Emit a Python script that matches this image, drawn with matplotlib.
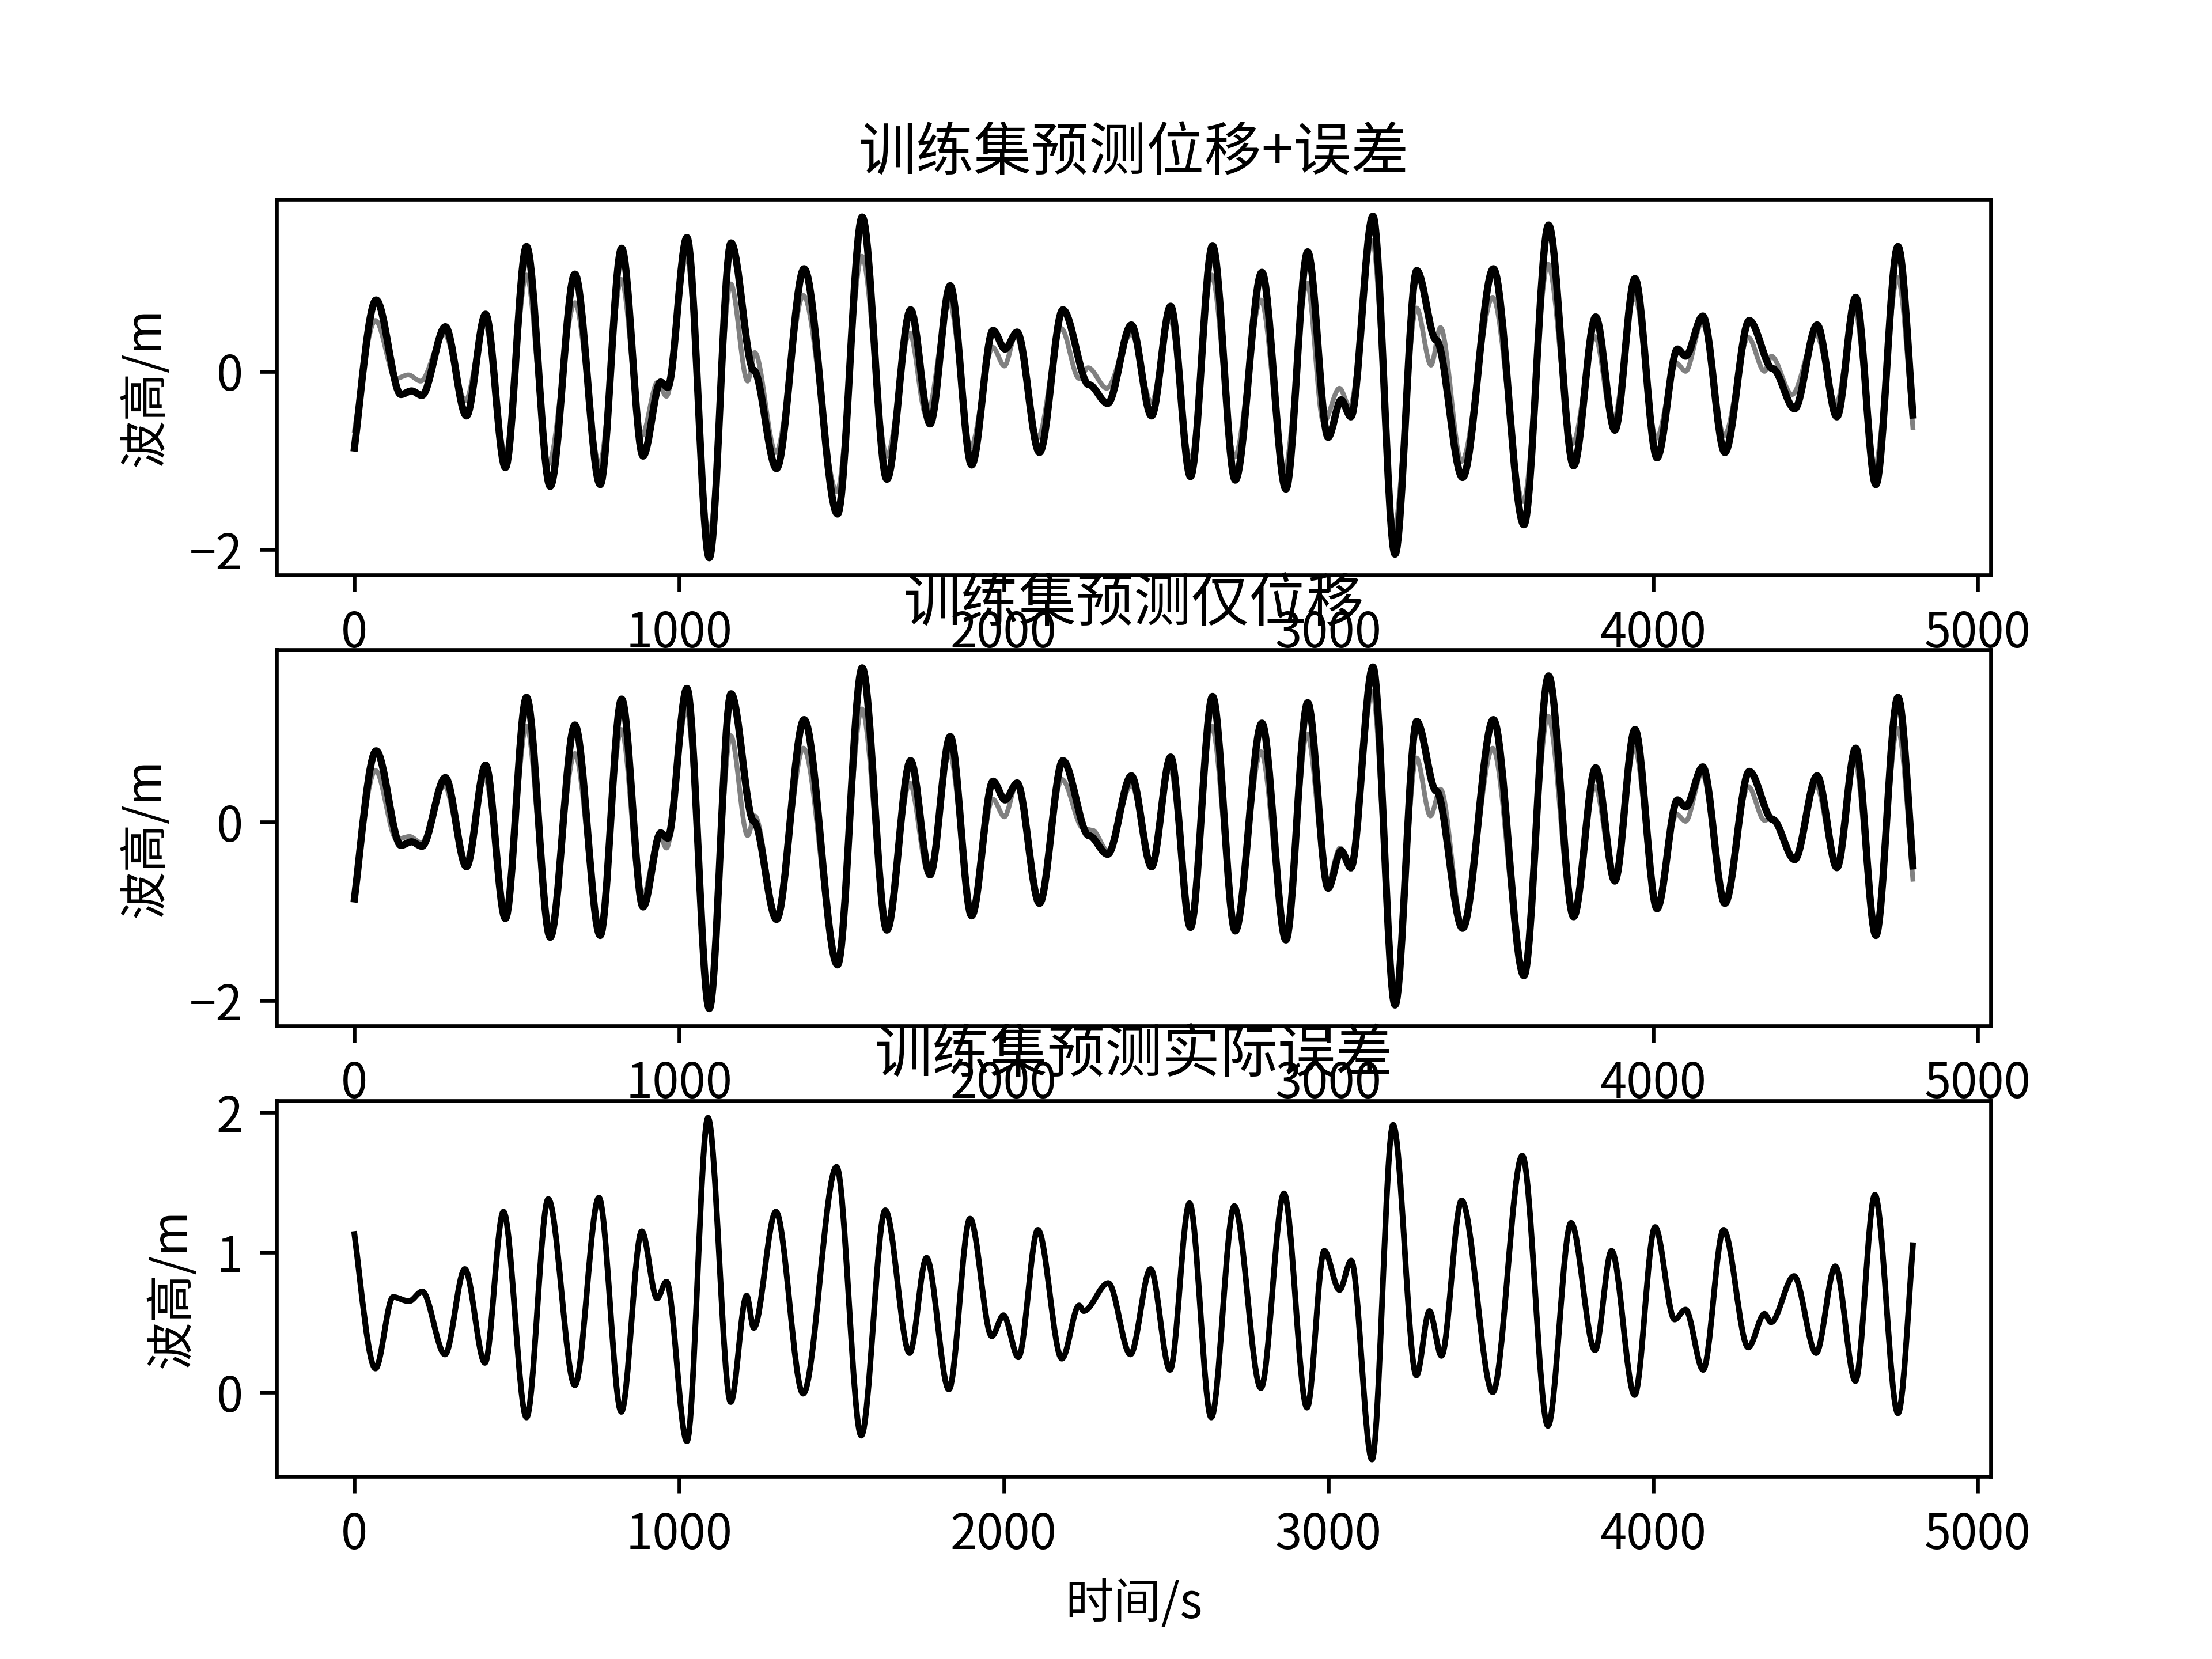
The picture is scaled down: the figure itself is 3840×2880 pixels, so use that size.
import numpy as np
import matplotlib
matplotlib.use("Agg")
import matplotlib.pyplot as plt
from matplotlib.path import Path
from matplotlib.patches import PathPatch

plt.rcParams['font.family'] = ['Noto Sans CJK SC', 'DejaVu Sans']
plt.rcParams['axes.unicode_minus'] = True

# 实测波高 (黑线, 上两图相同) -- 读取的极值点
true_t = [0, 67, 143, 176, 208, 280, 345, 404, 465, 530,
          603, 679, 757, 823, 889, 943, 965, 1024, 1093, 1160,
          1230, 1300, 1385, 1488, 1564, 1640, 1713, 1773, 1835, 1901,
          1967, 2004, 2041, 2110, 2182, 2262, 2320, 2393, 2455, 2514,
          2575, 2643, 2713, 2795, 2869, 2936, 2999, 3039, 3069, 3137,
          3205, 3272, 3332, 3413, 3508, 3602, 3678, 3755, 3823, 3882,
          3944, 4012, 4075, 4100, 4153, 4221, 4296, 4368, 4436, 4505,
          4566, 4624, 4686, 4754, 4800]
true_y = [-0.86, 0.80, -0.26, -0.22, -0.27, 0.50, -0.50, 0.64, -1.08, 1.40,
          -1.29, 1.09, -1.27, 1.38, -0.95, -0.12, -0.18, 1.50, -2.09, 1.44,
          0.01, -1.09, 1.15, -1.60, 1.73, -1.21, 0.69, -0.59, 0.96, -1.05,
          0.46, 0.25, 0.44, -0.91, 0.69, -0.15, -0.36, 0.52, -0.50, 0.73,
          -1.18, 1.41, -1.22, 1.11, -1.32, 1.34, -0.74, -0.32, -0.51, 1.74,
          -2.05, 1.13, 0.35, -1.19, 1.15, -1.72, 1.64, -1.06, 0.61, -0.66,
          1.04, -0.97, 0.25, 0.17, 0.62, -0.91, 0.57, 0.03, -0.42, 0.52,
          -0.51, 0.83, -1.27, 1.40, -0.49]

# 预测: 位移+误差 (灰线, 图1)
pred1_t = [0, 65, 128, 166, 204, 277, 342, 402, 465, 530,
           597, 679, 755, 822, 885, 934, 961, 1023, 1092, 1159,
           1211, 1233, 1298, 1383, 1486, 1563, 1640, 1710, 1762, 1833,
           1898, 1966, 2002, 2037, 2105, 2177, 2232, 2260, 2317, 2393,
           2455, 2512, 2575, 2640, 2711, 2792, 2865, 2934, 2985, 3034,
           3066, 3135, 3202, 3271, 3316, 3345, 3410, 3506, 3600, 3676,
           3752, 3821, 3876, 3943, 4010, 4072, 4100, 4151, 4219, 4293,
           4343, 4364, 4428, 4502, 4564, 4621, 4683, 4753, 4800]
pred1_y = [-0.67, 0.57, -0.08, -0.04, -0.11, 0.42, -0.33, 0.53, -0.92, 1.08,
           -1.04, 0.77, -1.04, 1.03, -0.72, -0.12, -0.28, 1.29, -1.84, 0.98,
           -0.11, 0.21, -0.91, 0.85, -1.35, 1.29, -0.95, 0.43, -0.50, 0.77,
           -0.85, 0.27, 0.06, 0.41, -0.74, 0.48, -0.08, 0.04, -0.19, 0.42,
           -0.35, 0.59, -1.00, 1.08, -0.96, 0.80, -1.10, 0.99, -0.57, -0.19,
           -0.40, 1.47, -1.76, 0.71, 0.07, 0.49, -1.01, 0.83, -1.46, 1.20,
           -0.81, 0.39, -0.58, 0.84, -0.75, 0.09, 0.00, 0.55, -0.72, 0.38,
           0.00, 0.17, -0.26, 0.41, -0.36, 0.69, -1.06, 1.05, -0.63]

# 预测: 仅位移 (灰线, 图2)
pred2_t = [0, 65, 130, 170, 206, 277, 342, 402, 465, 530,
           600, 679, 755, 822, 885, 940, 961, 1023, 1092, 1159,
           1211, 1233, 1300, 1383, 1486, 1563, 1640, 1710, 1768, 1833,
           1901, 1966, 2002, 2039, 2108, 2179, 2245, 2273, 2320, 2393,
           2455, 2512, 2575, 2640, 2713, 2792, 2869, 2934, 2997, 3036,
           3069, 3135, 3204, 3271, 3314, 3345, 3413, 3506, 3600, 3676,
           3753, 3821, 3879, 3943, 4010, 4072, 4100, 4151, 4219, 4293,
           4343, 4366, 4434, 4502, 4564, 4621, 4684, 4753, 4800]
pred2_y = [-0.80, 0.58, -0.19, -0.16, -0.23, 0.41, -0.44, 0.50, -1.01, 1.08,
           -1.21, 0.77, -1.18, 1.04, -0.87, -0.15, -0.29, 1.27, -2.02, 0.97,
           -0.15, 0.07, -1.04, 0.83, -1.53, 1.27, -1.15, 0.44, -0.57, 0.77,
           -1.03, 0.26, 0.06, 0.42, -0.87, 0.48, -0.07, -0.09, -0.32, 0.42,
           -0.47, 0.61, -1.14, 1.08, -1.15, 0.79, -1.29, 0.99, -0.68, -0.29,
           -0.53, 1.47, -1.99, 0.72, 0.07, 0.37, -1.15, 0.83, -1.66, 1.19,
           -1.03, 0.40, -0.62, 0.83, -0.93, 0.09, 0.01, 0.55, -0.89, 0.40,
           0.02, 0.05, -0.40, 0.41, -0.50, 0.69, -1.25, 1.05, -0.64]

# 实际误差 (图3)
err_t = [0, 65, 119, 168, 209, 279, 340, 402, 459, 530,
         597, 679, 753, 822, 885, 932, 961, 1024, 1089, 1159,
         1208, 1230, 1298, 1382, 1485, 1561, 1635, 1710, 1762, 1831,
         1896, 1963, 1999, 2045, 2105, 2179, 2232, 2246, 2322, 2390,
         2452, 2512, 2572, 2639, 2710, 2792, 2863, 2934, 2987, 3034,
         3070, 3134, 3199, 3271, 3311, 3348, 3410, 3506, 3597, 3676,
         3747, 3821, 3872, 3943, 4006, 4066, 4100, 4154, 4217, 4293,
         4343, 4363, 4434, 4502, 4561, 4623, 4683, 4754, 4800]
err_y = [1.13, 0.17, 0.68, 0.65, 0.72, 0.27, 0.88, 0.21, 1.29, -0.18,
         1.38, 0.05, 1.39, -0.14, 1.15, 0.67, 0.79, -0.35, 1.96, -0.07,
         0.69, 0.46, 1.29, -0.01, 1.61, -0.31, 1.30, 0.28, 0.96, 0.02,
         1.24, 0.40, 0.55, 0.25, 1.16, 0.24, 0.62, 0.58, 0.78, 0.27,
         0.88, 0.16, 1.35, -0.18, 1.33, 0.03, 1.42, -0.11, 1.01, 0.73,
         0.94, -0.48, 1.91, 0.12, 0.58, 0.26, 1.37, 0.00, 1.69, -0.24,
         1.21, 0.30, 1.01, -0.02, 1.18, 0.52, 0.59, 0.16, 1.16, 0.32,
         0.56, 0.50, 0.83, 0.28, 0.90, 0.08, 1.41, -0.15, 1.05]


def wave(ax, t, y, color, lw):
    # smooth curve through the read extrema (flat tangent at each extremum)
    verts = [(t[0], y[0])]
    codes = [Path.MOVETO]
    n = len(t)
    for i in range(n - 1):
        d = (t[i + 1] - t[i]) / 3.0
        dy = y[i + 1] - y[i]
        y_a = y[i] + 0.4 * dy if i == 0 else y[i]
        y_b = y[i + 1] - 0.4 * dy if i == n - 2 else y[i + 1]
        verts += [(t[i] + d, y_a), (t[i + 1] - d, y_b), (t[i + 1], y[i + 1])]
        codes += [Path.CURVE4] * 3
    p = PathPatch(Path(verts, codes), facecolor='none', edgecolor=color,
                  lw=lw, joinstyle='round', capstyle='projecting')
    ax.add_patch(p)


fig = plt.figure(figsize=(6.4, 4.8))

ax1 = fig.add_subplot(3, 1, 1)
wave(ax1, pred1_t, pred1_y, 'gray', 1.0)
wave(ax1, true_t, true_y, 'k', 1.5)
ax1.autoscale_view()
ax1.set_title('训练集预测位移+误差')
ax1.set_ylabel('波高/m')

ax2 = fig.add_subplot(3, 1, 2)
wave(ax2, pred2_t, pred2_y, 'gray', 1.0)
wave(ax2, true_t, true_y, 'k', 1.5)
ax2.autoscale_view()
ax2.set_title('训练集预测仅位移')
ax2.set_ylabel('波高/m')

ax3 = fig.add_subplot(3, 1, 3)
wave(ax3, err_t, err_y, 'k', 1.2)
ax3.autoscale_view()
ax3.set_title('训练集预测实际误差')
ax3.set_ylabel('波高/m')
ax3.set_xlabel('时间/s')

fig.savefig('out.png', dpi=600)
